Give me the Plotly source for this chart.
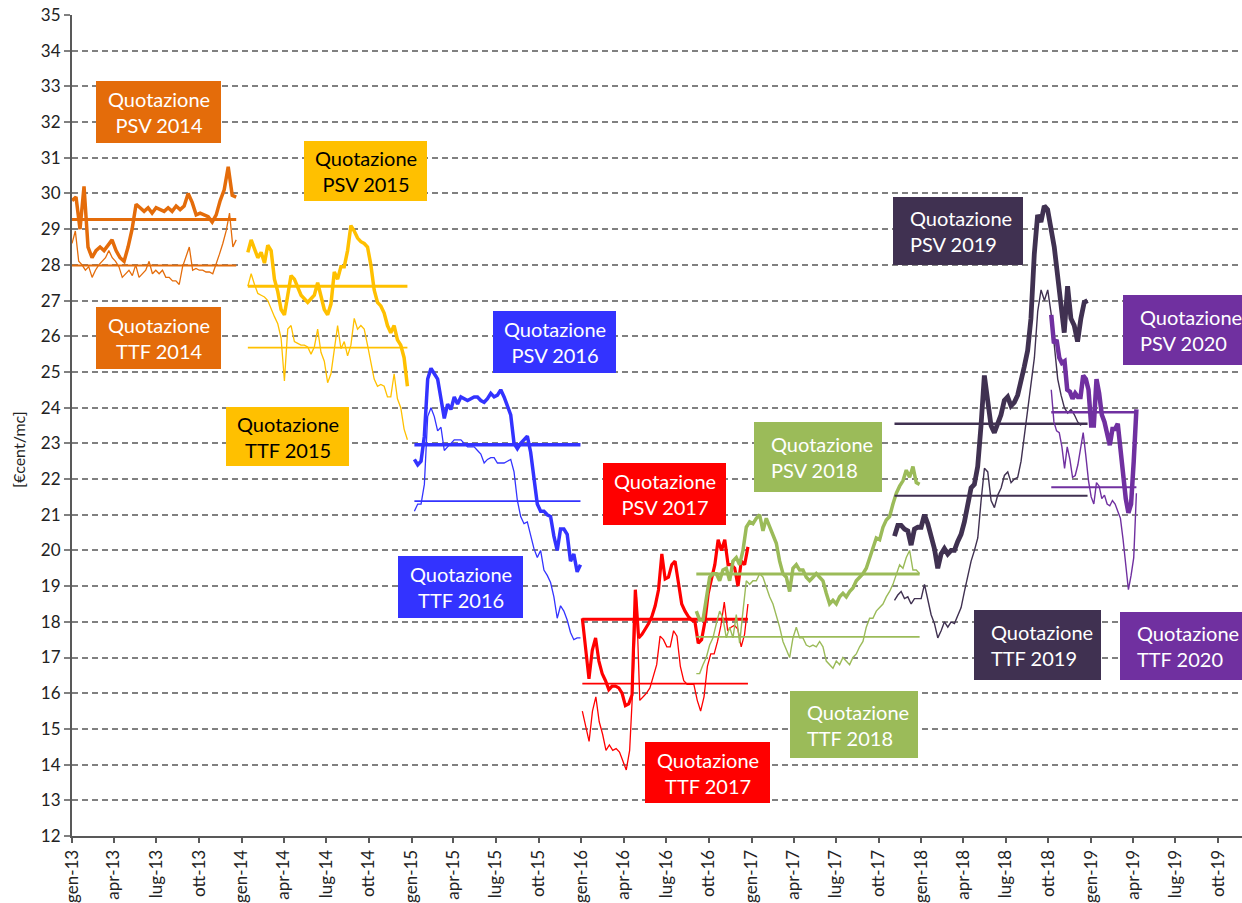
import pandas as pd
import plotly.graph_objects as go

# ------------------------------------------------------------------ data
years = [2014, 2015, 2016, 2017, 2018, 2019, 2020]
year_colors = ["#E46C0A", "#FFC000", "#3333FF", "#FF0000", "#9BBB59", "#403151", "#7030A0"]

start_dates = ["2013-01-01", "2014-01-14", "2015-01-07", "2016-01-03",
               "2016-09-04", "2017-11-04", "2018-10-07"]
psv_end_dates = ["2013-12-20", "2014-12-23", "2015-12-30", "2016-12-24",
                 "2017-12-28", "2018-12-24", "2019-04-08"]
ttf_end_dates = ["2013-12-20", "2014-12-23", "2015-12-30", "2016-12-24",
                 "2017-12-28", "2018-12-10", "2019-04-08"]

psv_avg = [29.27, 27.40, 22.96, 18.07, 19.34, 23.55, 23.87]
ttf_avg = [27.98, 25.68, 21.38, 16.27, 17.58, 21.53, 21.77]

psv_2014 = [29.8, 29.9, 29.0, 30.2, 28.5, 28.2, 28.4, 28.5, 28.4, 28.55, 28.7, 28.4,
            28.2, 28.1, 28.5, 29.0, 29.7, 29.6, 29.5, 29.6, 29.45, 29.6, 29.55, 29.5,
            29.6, 29.5, 29.65, 29.55, 29.65, 30.0, 29.75, 29.4, 29.45, 29.4, 29.35, 29.2,
            29.4, 29.8, 30.1, 30.75, 29.95, 29.9]
ttf_2014 = [28.6, 28.95, 28.1, 28.0, 27.85, 27.95, 27.65, 27.85, 28.0, 28.1, 28.2, 28.4,
            28.2, 28.1, 27.95, 27.65, 27.75, 27.85, 27.7, 28.0, 27.65, 27.75, 27.85, 28.1,
            27.75, 27.85, 27.75, 27.85, 27.65, 27.65, 27.55, 27.55, 27.45, 27.95, 28.2, 28.5,
            27.85, 27.9, 27.85, 27.85, 27.8, 27.8, 27.75, 28.0, 28.3, 28.6, 28.95, 29.45,
            28.5, 28.7]

psv_2015 = [28.35, 28.7, 28.45, 28.2, 28.35, 28.05, 28.55, 28.4, 27.6, 27.25, 26.75, 26.6,
            27.15, 27.7, 27.6, 27.4, 27.15, 27.05, 26.95, 27.05, 27.15, 27.5, 27.1, 26.75,
            26.6, 26.9, 27.8, 27.6, 27.95, 27.95, 28.4, 29.1, 28.95, 28.75, 28.65, 28.6,
            28.5, 28.0, 27.3, 26.95, 26.85, 26.65, 26.3, 26.1, 26.3, 25.9, 25.75, 25.4, 24.6]
ttf_2015 = [27.4, 27.75, 27.45, 27.2, 27.15, 27.1, 27.0, 26.75, 26.55, 26.35, 25.95, 24.75,
            26.2, 26.3, 25.85, 25.8, 25.75, 25.75, 25.7, 25.5, 25.7, 26.2, 25.55, 25.3,
            24.7, 24.95, 25.6, 26.3, 25.65, 25.85, 25.45, 25.75, 26.5, 26.2, 26.3, 26.2,
            25.75, 25.3, 24.8, 24.6, 24.65, 24.6, 24.3, 24.3, 24.95, 24.25, 24.0, 23.4, 23.1]

psv_2016 = [22.55, 22.4, 22.5, 23.2, 24.8, 25.1, 24.95, 24.8, 24.25, 23.7, 24.1, 23.95,
            24.3, 24.1, 24.3, 24.25, 24.2, 24.25, 24.3, 24.3, 24.2, 24.15, 24.25, 24.4,
            24.3, 24.35, 24.5, 24.3, 24.05, 23.8, 23.0, 22.85, 23.0, 23.1, 23.2, 22.75,
            21.95, 21.3, 21.1, 21.1, 21.0, 20.95, 20.4, 20.0, 20.6, 20.6, 20.45, 19.7,
            19.9, 19.4, 19.6]
ttf_2016 = [21.1, 21.3, 21.3, 21.85, 23.75, 24.0, 23.75, 23.35, 23.45, 22.8, 22.9, 23.0,
            23.1, 23.1, 23.1, 23.0, 22.9, 22.9, 22.9, 22.8, 22.7, 22.45, 22.55, 22.6,
            22.6, 22.45, 22.45, 22.45, 22.5, 22.55, 22.2, 21.4, 20.95, 20.75, 20.8, 20.4,
            20.05, 19.8, 20.0, 19.45, 19.3, 19.1, 18.7, 18.1, 18.45, 18.3, 18.05, 17.7,
            17.5, 17.55, 17.55]

psv_2017 = [18.1, 17.3, 16.4, 17.2, 17.55, 16.9, 16.55, 16.35, 16.1, 16.2, 16.2, 16.15,
            16.0, 15.65, 15.7, 15.95, 18.9, 17.55, 17.65, 17.8, 17.95, 18.15, 18.45, 18.9,
            19.9, 19.2, 19.25, 19.6, 19.7, 19.1, 18.5, 18.3, 18.15, 18.05, 18.0, 17.4,
            17.5, 18.0, 18.8, 19.2, 19.6, 20.3, 20.0, 20.3, 19.6, 19.6, 19.5, 19.0,
            19.7, 19.6, 20.1]
ttf_2017 = [15.5, 15.05, 14.65, 15.5, 15.9, 15.2, 14.85, 14.4, 14.55, 14.4, 14.45, 14.35,
            14.1, 13.85, 14.4, 16.3, 18.7, 15.8, 15.9, 16.0, 16.15, 16.45, 16.8, 17.6,
            17.5, 17.3, 17.3, 17.75, 17.6, 16.75, 16.35, 16.25, 16.25, 16.25, 15.8, 15.5,
            15.9, 16.75, 17.1, 17.1, 17.45, 17.9, 18.55, 17.75, 17.85, 17.9, 17.8, 17.3,
            17.65, 18.5]

psv_2018 = [18.3, 18.05, 18.05, 18.7, 19.25, 19.35, 19.35, 19.15, 19.45, 19.5, 19.15, 19.7,
            19.8, 19.6, 20.0, 20.65, 20.8, 20.75, 20.9, 21.0, 20.55, 20.9, 20.65, 20.45,
            20.2, 19.7, 19.35, 19.25, 18.85, 19.5, 19.6, 19.45, 19.45, 19.25, 19.15, 19.25,
            19.35, 19.25, 19.15, 18.8, 18.5, 18.6, 18.5, 18.7, 18.8, 18.7, 18.85, 18.95,
            19.15, 19.25, 19.35, 19.5, 19.8, 20.1, 20.35, 20.3, 20.65, 20.85, 20.95, 21.3,
            21.6, 21.8, 21.95, 22.25, 22.05, 22.35, 21.9, 21.85]
ttf_2018 = [16.55, 16.55, 16.8, 17.0, 17.35, 17.55, 17.95, 18.3, 18.1, 17.55, 17.85, 17.55,
            18.2, 17.4, 18.3, 19.15, 19.05, 19.15, 19.15, 19.35, 19.25, 18.95, 18.7, 18.5,
            18.2, 17.85, 17.45, 17.2, 17.0, 17.55, 17.85, 17.55, 17.55, 17.35, 17.3, 17.35,
            17.3, 17.45, 17.3, 16.9, 16.8, 16.7, 16.9, 16.8, 17.0, 16.9, 16.8, 17.0,
            17.1, 17.3, 17.45, 17.85, 18.1, 18.1, 18.3, 18.4, 18.5, 18.7, 18.85, 19.05,
            19.35, 19.6, 19.5, 19.8, 20.0, 19.45, 19.45, 19.35]

psv_2019 = [20.4, 20.7, 20.7, 20.6, 20.55, 20.15, 20.6, 20.65, 20.65, 21.0, 20.75, 20.45,
            20.05, 19.5, 19.9, 20.05, 19.9, 20.0, 20.0, 20.25, 20.45, 20.8, 21.3, 21.75,
            21.85, 22.35, 23.5, 24.9, 24.2, 23.5, 23.3, 23.55, 23.8, 24.2, 24.3, 24.05,
            24.15, 24.35, 24.7, 25.15, 25.6, 26.5, 28.3, 29.4, 29.2, 29.65, 29.55, 29.1,
            28.5, 27.7, 27.0, 26.1, 27.4, 26.5, 26.3, 25.85, 26.5, 26.95, 27.0]
ttf_2019 = [18.6, 18.75, 18.85, 18.65, 18.7, 18.5, 18.65, 18.65, 18.65, 19.05, 18.6, 18.2,
            17.95, 17.55, 17.75, 18.0, 17.85, 18.0, 17.95, 18.2, 18.4, 18.85, 19.3, 19.7,
            20.0, 20.35, 21.4, 22.3, 22.2, 21.4, 21.2, 21.55, 21.75, 22.1, 22.2, 21.9,
            22.0, 22.05, 22.5, 23.2, 24.0, 24.6, 25.4, 26.7, 27.3, 27.0, 27.3, 26.65,
            25.75, 24.8, 24.35, 24.0, 23.85, 23.95, 23.8, 23.6, 23.5]

psv_2020 = [26.6, 25.8, 25.9, 25.4, 25.25, 25.3, 24.5, 24.45, 24.25, 24.4, 24.3, 24.3,
            24.9, 24.8, 24.5, 23.5, 23.5, 24.8, 24.4, 23.8, 23.6, 23.3, 22.95, 23.4,
            23.4, 23.55, 22.85, 22.2, 21.45, 21.05, 21.3, 22.5, 23.95]
ttf_2020 = [24.5, 23.6, 23.35, 23.3, 22.9, 22.3, 22.9, 22.55, 22.05, 22.1, 22.4, 22.9,
            23.3, 22.65, 21.95, 21.5, 21.3, 21.9, 21.8, 21.45, 21.55, 21.3, 21.25, 21.4,
            21.3, 21.1, 20.9, 20.3, 19.55, 18.9, 19.3, 19.8, 21.6]

psv_series = [psv_2014, psv_2015, psv_2016, psv_2017, psv_2018, psv_2019, psv_2020]
ttf_series = [ttf_2014, ttf_2015, ttf_2016, ttf_2017, ttf_2018, ttf_2019, ttf_2020]

tick_dates = pd.date_range("2013-01-01", "2019-10-01", freq="QS")
tick_labels = ["gen-13", "apr-13", "lug-13", "ott-13", "gen-14", "apr-14", "lug-14", "ott-14",
               "gen-15", "apr-15", "lug-15", "ott-15", "gen-16", "apr-16", "lug-16", "ott-16",
               "gen-17", "apr-17", "lug-17", "ott-17", "gen-18", "apr-18", "lug-18", "ott-18",
               "gen-19", "apr-19", "lug-19", "ott-19"]

# ------------------------------------------------------------------ style
psv_width = [3.5, 3.5, 3.5, 3.2, 3.5, 4.8, 4.5]
ttf_width = [1.3, 1.3, 1.3, 1.3, 1.4, 1.4, 1.4]
psv_avg_width = [3.0, 3.0, 3.5, 3.0, 3.0, 2.6, 2.6]
ttf_avg_width = [2.0, 1.8, 1.6, 1.6, 1.8, 2.0, 2.0]

W, H = 1242, 903
ML, MR, MT, MB = 72, 0, 15, 67
PW, PH = W - ML - MR, H - MT - MB

fig = go.Figure()

for i, yr in enumerate(years):
    c = year_colors[i]
    d_psv = pd.date_range(start_dates[i], psv_end_dates[i], periods=len(psv_series[i]))
    d_ttf = pd.date_range(start_dates[i], ttf_end_dates[i], periods=len(ttf_series[i]))
    fig.add_trace(go.Scatter(x=d_psv, y=psv_series[i], mode="lines", name=f"PSV {yr}",
                             line=dict(color=c, width=psv_width[i]), showlegend=False))
    fig.add_trace(go.Scatter(x=d_ttf, y=ttf_series[i], mode="lines", name=f"TTF {yr}",
                             line=dict(color=c, width=ttf_width[i]), showlegend=False))
    fig.add_trace(go.Scatter(x=[start_dates[i], psv_end_dates[i]], y=[psv_avg[i]] * 2,
                             mode="lines", name=f"Media PSV {yr}",
                             line=dict(color=c, width=psv_avg_width[i]), showlegend=False))
    fig.add_trace(go.Scatter(x=[start_dates[i], psv_end_dates[i]], y=[ttf_avg[i]] * 2,
                             mode="lines", name=f"Media TTF {yr}",
                             line=dict(color=c, width=ttf_avg_width[i]), showlegend=False))

# label boxes: (text, x0, y0, x1, y1 in px, colour index, text colour, align)
boxes = [
    ("Quotazione<br>PSV 2014", 96, 81, 221, 143, 0, "white", "center"),
    ("Quotazione<br>TTF 2014", 96, 307, 221, 369, 0, "white", "center"),
    ("Quotazione<br>PSV 2015", 304, 141, 427, 201, 1, "black", "center"),
    ("Quotazione<br>TTF 2015", 226, 407, 349, 466, 1, "black", "center"),
    ("Quotazione<br>PSV 2016", 493, 311, 616, 373, 2, "white", "center"),
    ("Quotazione<br>TTF 2016", 398, 556, 523, 618, 2, "white", "center"),
    ("Quotazione<br>PSV 2017", 603, 463, 726, 525, 3, "white", "center"),
    ("Quotazione<br>TTF 2017", 645, 742, 770, 803, 3, "white", "center"),
    ("Quotazione<br>PSV 2018", 754, 422, 882, 492, 4, "white", "left"),
    ("Quotazione<br>TTF 2018", 790, 691, 918, 758, 4, "white", "left"),
    ("Quotazione<br>PSV 2019", 893, 197, 1023, 265, 5, "white", "left"),
    ("Quotazione<br>TTF 2019", 974, 610, 1101, 680, 5, "white", "left"),
    ("Quotazione<br>PSV 2020", 1123, 295, 1242, 365, 6, "white", "left"),
    ("Quotazione<br>TTF 2020", 1120, 612, 1242, 680, 6, "white", "left"),
]


def px_x(px):
    return (px - ML) / PW


def px_y(py):
    return (H - MB - py) / PH


shapes = []
annotations = []
for text, x0, y0, x1, y1, ci, fc, al in boxes:
    shapes.append(dict(type="rect", xref="paper", yref="paper",
                       x0=px_x(x0), x1=px_x(x1), y0=px_y(y1), y1=px_y(y0),
                       fillcolor=year_colors[ci], line=dict(width=0), layer="above"))
    if al == "center":
        ax, anch = px_x((x0 + x1) / 2), "center"
    else:
        ax, anch = px_x(x0 + 15), "left"
    annotations.append(dict(text=text, xref="paper", yref="paper", x=ax, y=px_y((y0 + y1) / 2),
                            xanchor=anch, yanchor="middle", align=al, showarrow=False,
                            font=dict(family="Lato", size=20, color=fc)))

annotations.append(dict(text="[€cent/mc]", xref="paper", yref="paper",
                        x=px_x(18), y=px_y(450), textangle=-90, showarrow=False,
                        xanchor="center", yanchor="middle",
                        font=dict(family="Lato", size=16, color="#222222")))

fig.update_layout(
    width=W, height=H,
    margin=dict(l=ML, r=MR, t=MT, b=MB, pad=0),
    paper_bgcolor="white", plot_bgcolor="white",
    shapes=shapes, annotations=annotations,
    showlegend=False,
    xaxis=dict(type="date", range=["2013-01-01", "2019-11-21"], automargin=False,
               tickmode="array", tickvals=tick_dates, ticktext=tick_labels,
               tickangle=-90, ticks="outside", ticklen=5, tickcolor="#595959", tickwidth=1.5,
               showline=True, linecolor="#595959", linewidth=2, showgrid=False, zeroline=False,
               tickfont=dict(family="Lato", size=17, color="#222222")),
    yaxis=dict(range=[12, 35], dtick=1, tick0=12, ticks="outside", ticklen=6, automargin=False,
               tickcolor="#808080", tickwidth=1.5,
               showline=True, linecolor="#595959", linewidth=2, zeroline=False,
               showgrid=True, gridcolor="#808080", gridwidth=1.5, griddash="6px,4px",
               tickfont=dict(family="Lato", size=17, color="#222222")),
)

fig.write_html("out.html", config={"displayModeBar": False},
               post_script="document.body.style.margin='0px';document.body.style.overflow='hidden';")
